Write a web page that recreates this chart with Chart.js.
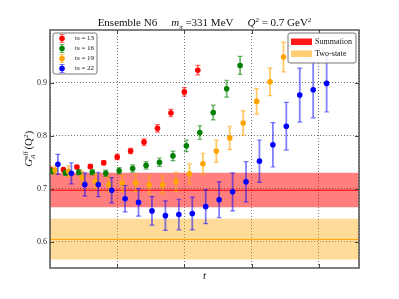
<!DOCTYPE html>
<html>
<head>
<meta charset="utf-8">
<script src="https://cdn.jsdelivr.net/npm/chart.js@4/dist/chart.umd.min.js"></script>
<style>
  html,body{margin:0;padding:0;background:#fff;}
  canvas{display:block;}
</style>
</head>
<body>
<canvas id="c" width="399" height="299"></canvas>
<script>
// ---- data ----
const seriesLabels = ["ts = 13", "ts = 16", "ts = 19", "ts = 22"];

const tRed = [0,1,2,3,4,5,6,7,8,9,10,11];
const gRed = [0.737,0.736,0.741,0.742,0.749,0.760,0.771,0.788,0.814,0.843,0.883,0.924];
const eRed = [0.003,0.003,0.003,0.004,0.004,0.005,0.005,0.006,0.007,0.007,0.008,0.009];

const tGreen = [0.15,1.15,2.15,3.15,4.15,5.15,6.15,7.15,8.15,9.15,10.15,11.15,12.15,13.15,14.15];
const gGreen = [0.733,0.730,0.731,0.731,0.729,0.734,0.738,0.744,0.750,0.762,0.781,0.806,0.844,0.889,0.933];
const eGreen = [0.005,0.005,0.005,0.005,0.006,0.006,0.007,0.007,0.008,0.009,0.011,0.013,0.014,0.016,0.017];

const tOrange = [0.38,1.38,2.38,3.38,4.38,5.38,6.38,7.38,8.38,9.38,10.38,11.38,12.38,13.38,14.38,15.38,16.38,17.38];
const gOrange = [0.735,0.733,0.721,0.714,0.708,0.710,0.711,0.707,0.707,0.713,0.728,0.747,0.771,0.796,0.824,0.865,0.902,0.949];
const eOrange = [0.008,0.010,0.012,0.013,0.014,0.015,0.016,0.017,0.017,0.018,0.019,0.020,0.021,0.022,0.023,0.024,0.026,0.028];

const tBlue = [0.59,1.59,2.59,3.59,4.59,5.59,6.59,7.59,8.59,9.59,10.59,11.59,12.59,13.59,14.59,15.59,16.59,17.59,18.59,19.59,20.59];
const gBlue = [0.746,0.729,0.708,0.708,0.697,0.681,0.674,0.658,0.649,0.651,0.653,0.666,0.679,0.694,0.713,0.752,0.783,0.818,0.877,0.887,0.899];
const eBlue = [0.019,0.020,0.022,0.023,0.024,0.025,0.026,0.027,0.028,0.029,0.031,0.032,0.034,0.036,0.038,0.040,0.042,0.045,0.051,0.053,0.054];

const summation = {center: 0.697, low: 0.665, high: 0.730};
const twoState  = {center: 0.604, low: 0.566, high: 0.643};
const bandLabels = ["Summation", "Two-state"];

const xRange = [0, 23];
const yRange = [0.55, 1.0];
const yTicks = [0.6, 0.7, 0.8, 0.9];
const xTicks = [5, 10, 15, 20];

const SERIF = "'Liberation Serif', 'DejaVu Serif', serif";

function pts(xs, ys){ return xs.map((x,i)=>({x:x, y:ys[i]})); }
function hline(v){ return [{x:xRange[0], y:v},{x:xRange[1], y:v}]; }

const colors = ['#ff0000', '#008000', '#ffa500', '#0000ff'];
const errColors = ['rgba(255,0,0,0.55)','rgba(0,128,0,0.55)','rgba(255,165,0,0.6)','rgba(0,0,255,0.5)'];
const series = [[tRed,gRed,eRed],[tGreen,gGreen,eGreen],[tOrange,gOrange,eOrange],[tBlue,gBlue,eBlue]];

const datasets = [];
series.forEach((s,k)=>{
  datasets.push({
    type:'scatter', label: seriesLabels[k], data: pts(s[0], s[1]), errors: s[2],
    errColor: errColors[k], capColor: colors[k],
    backgroundColor: colors[k], borderColor: colors[k], borderWidth: 0,
    pointRadius: 2.8, pointHoverRadius: 2.8, order: 4-k
  });
});
// bands
datasets.push({type:'line', label:'sumHi', data:hline(summation.high), borderWidth:0, pointRadius:0,
  fill:'+1', backgroundColor:'rgba(255,0,0,0.5)', order:20});
datasets.push({type:'line', label:'sumLo', data:hline(summation.low), borderWidth:0, pointRadius:0,
  fill:false, order:20});
datasets.push({type:'line', label:'tsHi', data:hline(twoState.high), borderWidth:0, pointRadius:0,
  fill:'+1', backgroundColor:'rgba(255,165,0,0.4)', order:20});
datasets.push({type:'line', label:'tsLo', data:hline(twoState.low), borderWidth:0, pointRadius:0,
  fill:false, order:20});
datasets.push({type:'line', label:'sumC', data:hline(summation.center), borderColor:'#ff0000', borderWidth:1, pointRadius:0, fill:false, order:15});
datasets.push({type:'line', label:'tsC', data:hline(twoState.center), borderColor:'#ffa500', borderWidth:1, pointRadius:0, fill:false, order:15});

const errPlugin = {
  id:'errbars',
  beforeDatasetDraw(chart, args){
    const ds = chart.data.datasets[args.index];
    if (!ds.errors) return;
    const ctx = chart.ctx, a = chart.chartArea, xs = chart.scales.x, ys = chart.scales.y;
    ctx.save();
    ctx.beginPath(); ctx.rect(a.left, a.top, a.right-a.left, a.bottom-a.top); ctx.clip();
    ds.data.forEach((p,i)=>{
      const px = xs.getPixelForValue(p.x);
      const y1 = ys.getPixelForValue(p.y + ds.errors[i]);
      const y2 = ys.getPixelForValue(p.y - ds.errors[i]);
      ctx.strokeStyle = ds.errColor; ctx.lineWidth = 1.8;
      ctx.beginPath(); ctx.moveTo(px, y1); ctx.lineTo(px, y2); ctx.stroke();
      ctx.strokeStyle = ds.errColor; ctx.lineWidth = 1.2;
      ctx.beginPath();
      ctx.moveTo(px-2.5, y1); ctx.lineTo(px+2.5, y1);
      ctx.moveTo(px-2.5, y2); ctx.lineTo(px+2.5, y2);
      ctx.stroke();
    });
    ctx.restore();
  }
};

function drawRich(ctx, parts, x, y){
  // parts: [text, fontSize, italic, dy]
  let cx = x;
  parts.forEach(p=>{
    ctx.font = (p[2]?'italic ':'') + p[1] + 'px ' + SERIF;
    ctx.fillText(p[0], cx, y + (p[3]||0));
    cx += ctx.measureText(p[0]).width;
  });
  return cx - x;
}
function richWidth(ctx, parts){
  let w = 0;
  parts.forEach(p=>{ ctx.font = (p[2]?'italic ':'') + p[1] + 'px ' + SERIF; w += ctx.measureText(p[0]).width; });
  return w;
}

const decoPlugin = {
  id:'deco',
  afterDraw(chart){
    const ctx = chart.ctx, a = chart.chartArea, xs = chart.scales.x, ys = chart.scales.y;
    ctx.save();
    // frame
    ctx.strokeStyle = '#555'; ctx.lineWidth = 1.5;
    ctx.strokeRect(a.left, a.top, a.right-a.left, a.bottom-a.top);
    // inward ticks
    ctx.lineWidth = 1; ctx.strokeStyle = '#444';
    ctx.beginPath();
    yTicks.forEach(v=>{
      const py = Math.round(ys.getPixelForValue(v)) + 0.5;
      ctx.moveTo(a.left, py); ctx.lineTo(a.left+4, py);
      ctx.moveTo(a.right, py); ctx.lineTo(a.right-4, py);
    });
    xTicks.forEach(v=>{
      const px = Math.round(xs.getPixelForValue(v)) + 0.5;
      ctx.moveTo(px, a.bottom); ctx.lineTo(px, a.bottom-4);
      ctx.moveTo(px, a.top); ctx.lineTo(px, a.top+4);
    });
    ctx.stroke();
    // y tick labels
    ctx.fillStyle = '#222'; ctx.font = '8px ' + SERIF;
    ctx.textAlign = 'right'; ctx.textBaseline = 'middle';
    yTicks.forEach(v=>{ ctx.fillText(v.toFixed(1), a.left - 3, ys.getPixelForValue(v)); });
    // title
    ctx.textAlign = 'left'; ctx.textBaseline = 'alphabetic';
    ctx.fillStyle = '#111';
    const t1 = [["Ensemble N6",11,false]];
    const t2 = [["m",11,true],["\u03c0",7,true,2.5],[" =331 MeV",11,false]];
    const t3 = [["Q",11,true],["2",7,false,-4.5],[" = 0.7 GeV",11,false],["2",7,false,-4.5]];
    const gap = 14;
    const w1 = richWidth(ctx,t1), w2 = richWidth(ctx,t2), w3 = richWidth(ctx,t3);
    const total = w1+w2+w3+2*gap;
    let tx = (a.left + a.right)/2 - total/2;
    const ty = 26;
    drawRich(ctx, t1, tx, ty); tx += w1 + gap;
    drawRich(ctx, t2, tx, ty); tx += w2 + gap;
    drawRich(ctx, t3, tx, ty);
    // x label
    ctx.font = 'italic 11px ' + SERIF; ctx.textAlign = 'center';
    ctx.fillText('t', (a.left + a.right)/2, 279);
    // y label (rotated)
    ctx.save();
    ctx.translate(32, (a.top + a.bottom)/2);
    ctx.rotate(-Math.PI/2);
    ctx.textAlign = 'left';
    const yl = [["G",11,true],["A",7,true,2.5]];
    const yl2 = [["(Q",11,false],["2",7,false,-4.5],[")",11,false]];
    ctx.font = '7px ' + SERIF;
    const wG = richWidth(ctx,[["G",11,true]]);
    const wsub = richWidth(ctx,[["eff",7,false]]);
    const wl2 = richWidth(ctx,yl2);
    const tot = wG + wsub + 1 + wl2;
    let lx = -tot/2;
    drawRich(ctx, [["G",11,true]], lx, 0);
    drawRich(ctx, [["A",7,true]], lx+wG, 2.5);
    drawRich(ctx, [["eff",7,false]], lx+wG, -4.5);
    drawRich(ctx, yl2, lx+wG+wsub+1.5, 0);
    ctx.restore();

    // left legend
    ctx.textAlign = 'left'; ctx.textBaseline = 'middle';
    roundRect(ctx, 53, 33, 44, 41, 2);
    ctx.fillStyle = 'rgba(255,255,255,0.85)'; ctx.fill();
    ctx.strokeStyle = '#777'; ctx.lineWidth = 1; ctx.stroke();
    seriesLabels.forEach((lab,k)=>{
      const cy = 38.5 + k*10;
      const cx = 62;
      ctx.strokeStyle = errColors[k]; ctx.lineWidth = 1.8;
      ctx.beginPath(); ctx.moveTo(cx, cy-4); ctx.lineTo(cx, cy+4); ctx.stroke();
      ctx.lineWidth = 1.2;
      ctx.beginPath(); ctx.moveTo(cx-2.5, cy-4); ctx.lineTo(cx+2.5, cy-4);
      ctx.moveTo(cx-2.5, cy+4); ctx.lineTo(cx+2.5, cy+4); ctx.stroke();
      ctx.fillStyle = colors[k];
      ctx.beginPath(); ctx.arc(cx, cy, 2.8, 0, Math.PI*2); ctx.fill();
      ctx.fillStyle = '#111'; ctx.font = '7px ' + SERIF;
      ctx.fillText(lab, 75, cy);
    });
    // right legend
    roundRect(ctx, 288, 33, 68, 30, 2);
    ctx.fillStyle = 'rgba(255,255,255,0.85)'; ctx.fill();
    ctx.strokeStyle = '#777'; ctx.lineWidth = 1; ctx.stroke();
    const patchCols = ['rgba(255,0,0,0.9)','rgba(255,165,0,0.55)'];
    bandLabels.forEach((lab,k)=>{
      const cy = 41.5 + k*12;
      ctx.fillStyle = patchCols[k];
      ctx.fillRect(291, cy-3, 21, 6.5);
      ctx.fillStyle = '#111'; ctx.font = '8px ' + SERIF;
      ctx.fillText(lab, 315, cy);
    });
    ctx.restore();
  }
};
function roundRect(ctx, x, y, w, h, r){
  ctx.beginPath();
  ctx.moveTo(x+r, y); ctx.lineTo(x+w-r, y); ctx.quadraticCurveTo(x+w, y, x+w, y+r);
  ctx.lineTo(x+w, y+h-r); ctx.quadraticCurveTo(x+w, y+h, x+w-r, y+h);
  ctx.lineTo(x+r, y+h); ctx.quadraticCurveTo(x, y+h, x, y+h-r);
  ctx.lineTo(x, y+r); ctx.quadraticCurveTo(x, y, x+r, y);
  ctx.closePath();
}

new Chart(document.getElementById('c'), {
  type:'scatter',
  data:{ datasets: datasets },
  options:{
    responsive:false, animation:false, devicePixelRatio:1,
    layout:{ padding:{ left:50, right:40, top:30, bottom:31 } },
    plugins:{ legend:{display:false}, tooltip:{enabled:false}, title:{display:false} },
    scales:{
      x:{ type:'linear', min:xRange[0], max:xRange[1],
          ticks:{ display:false, stepSize:5 },
          grid:{ color:'rgba(0,0,0,0.55)', lineWidth:1, drawTicks:false },
          border:{ display:false, dash:[1,2] } },
      y:{ type:'linear', min:yRange[0], max:yRange[1],
          ticks:{ display:false, stepSize:0.1 },
          grid:{ color:(c)=> (yTicks.some(v=>Math.abs(v-c.tick.value)<1e-6) ? 'rgba(0,0,0,0.55)' : 'rgba(0,0,0,0)'), lineWidth:1, drawTicks:false },
          border:{ display:false, dash:[1,2] } }
    }
  },
  plugins:[errPlugin, decoPlugin]
});
</script>
</body>
</html>
